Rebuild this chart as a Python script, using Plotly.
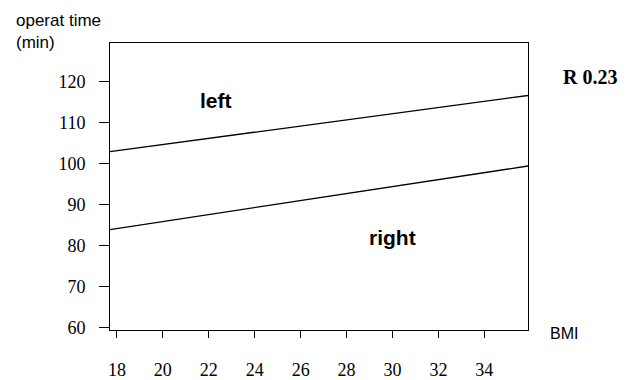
import plotly.graph_objects as go

bmi = [17.7, 35.9]
left_time = [103.0, 116.7]
right_time = [84.0, 99.5]
x_ticks = [18, 20, 22, 24, 26, 28, 30, 32, 34]
y_ticks = [60, 70, 80, 90, 100, 110, 120]

fig = go.Figure()
fig.add_trace(go.Scatter(x=bmi, y=left_time, mode="lines",
                         line=dict(color="black", width=1.3), showlegend=False))
fig.add_trace(go.Scatter(x=bmi, y=right_time, mode="lines",
                         line=dict(color="black", width=1.3), showlegend=False))

serif = "Liberation Serif, Times New Roman, serif"
sans = "Liberation Sans, Arial, sans-serif"

fig.update_layout(
    width=626, height=372,
    margin=dict(l=102, r=106, t=35, b=50),
    paper_bgcolor="white", plot_bgcolor="white",
    xaxis=dict(range=[17.7, 35.9], tickvals=x_ticks, ticks="outside", ticklen=7,
               tickcolor="black", showgrid=False, zeroline=False, showline=True,
               mirror=True, linecolor="black", linewidth=1, automargin=False,
               tickfont=dict(family=serif, size=18, color="black"),
               ticklabelstandoff=16),
    yaxis=dict(range=[59.5, 129.5], tickvals=y_ticks, ticks="outside", ticklen=10,
               tickcolor="black", showgrid=False, zeroline=False, showline=True,
               mirror=True, linecolor="black", linewidth=1, automargin=False,
               tickfont=dict(family=serif, size=18, color="black"),
               ticklabelstandoff=10),
    annotations=[
        dict(text="operat time<br>(min)", xref="paper", yref="paper", x=-0.23, y=1.12,
             xanchor="left", yanchor="top", showarrow=False, align="left",
             font=dict(family=sans, size=17, color="black")),
        dict(text="<b>left</b>", x=22.3, y=115.5, showarrow=False,
             font=dict(family=sans, size=21, color="black")),
        dict(text="<b>right</b>", x=30.0, y=82, showarrow=False,
             font=dict(family=sans, size=21, color="black")),
        dict(text="<b>R 0.23</b>", xref="paper", yref="y", x=1.08, y=121.3,
             xanchor="left", showarrow=False,
             font=dict(family=serif, size=20, color="black")),
        dict(text="BMI", xref="paper", yref="paper", x=1.048, y=0, yshift=-3,
             xanchor="left", yanchor="middle", showarrow=False,
             font=dict(family=sans, size=16, color="black")),
    ],
)

fig.write_html("out.html")
